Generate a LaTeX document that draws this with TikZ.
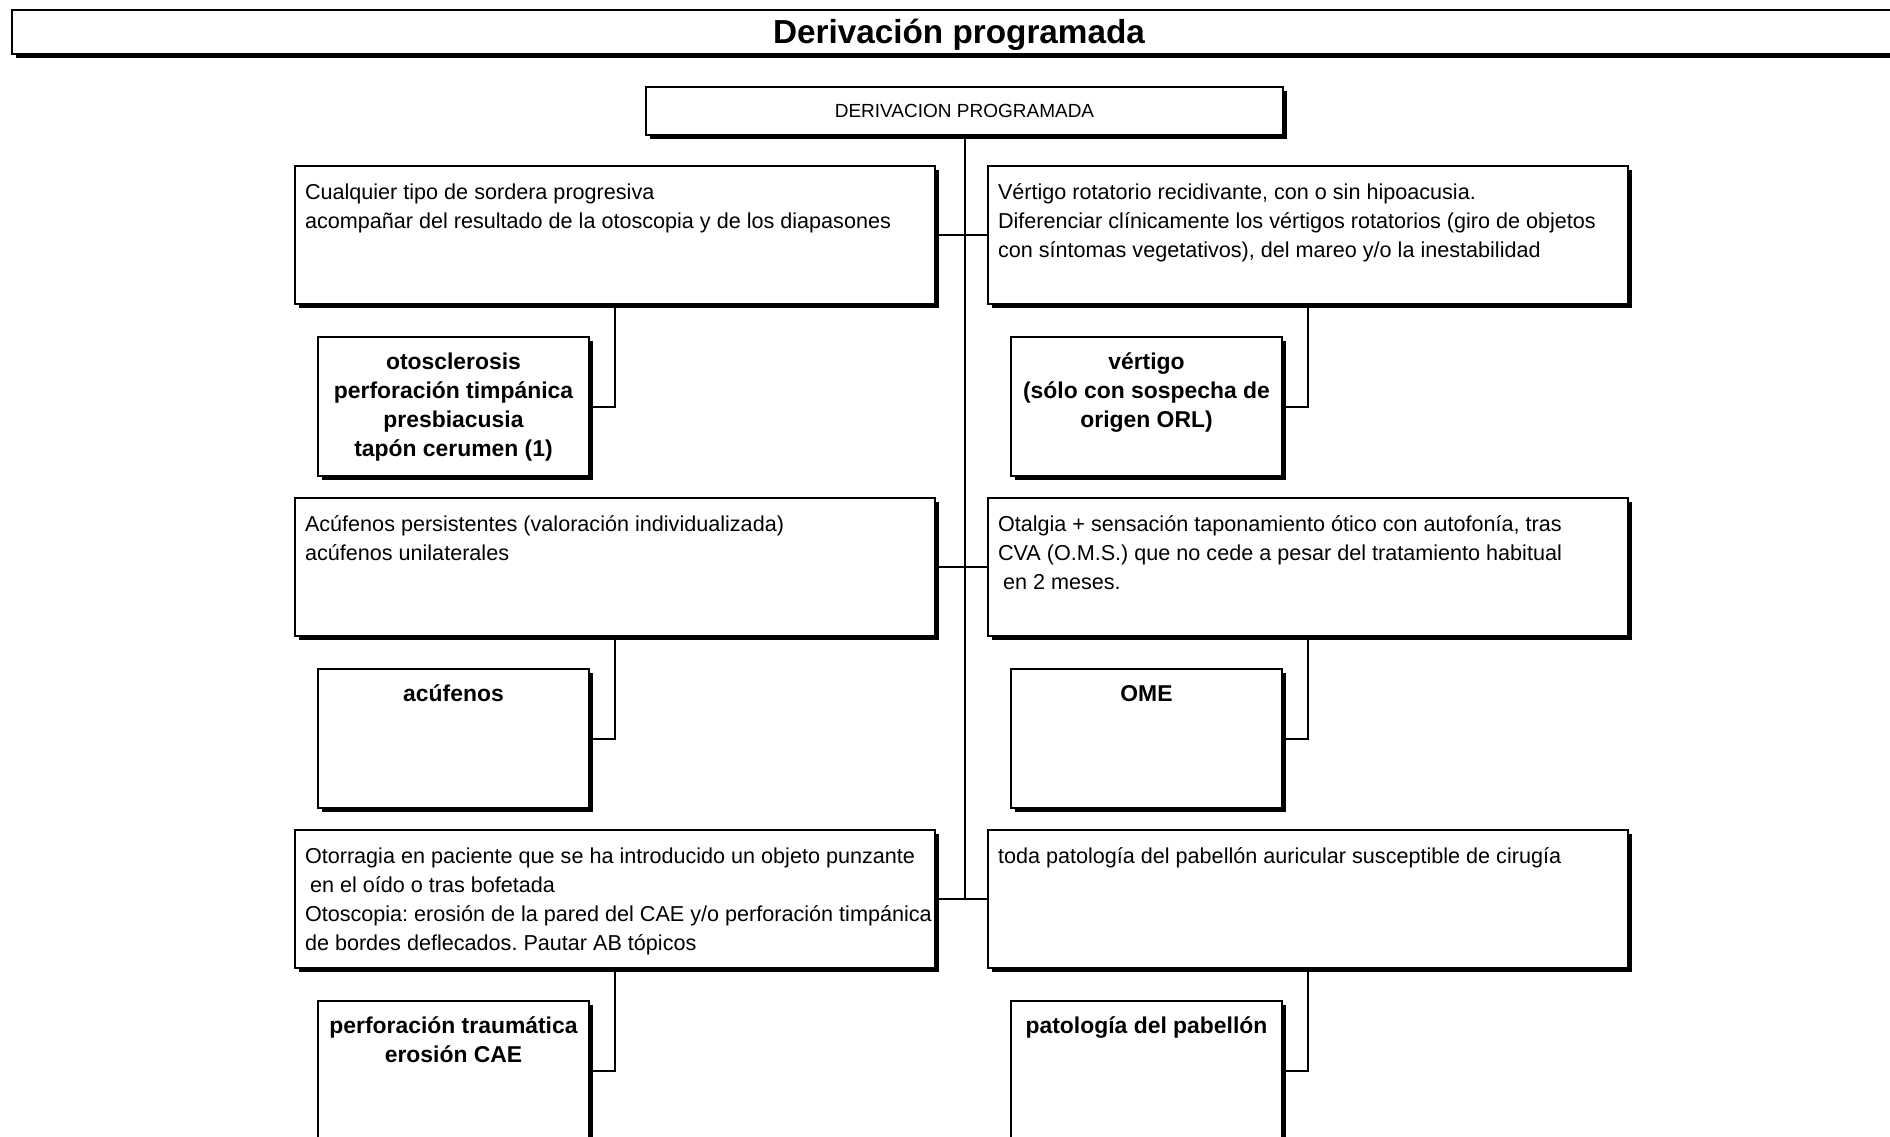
\documentclass[tikz,border=0pt]{standalone}
\usepackage{fontspec}
\setmainfont{Liberation Sans}
\usepackage{tikz}
\usetikzlibrary{shadows}
\tikzset{font={\fontsize{21.6pt}{29.3pt}\selectfont}}
\tikzset{
box/.style={draw,line width=2pt,fill=white,rectangle,anchor=north west,inner xsep=10pt,inner ysep=0pt,
  drop shadow={shadow xshift=4pt,shadow yshift=-4pt,fill=black,opacity=1}},
crit/.style={box,inner xsep=0pt},
diag/.style={box,inner xsep=6pt,font={\bfseries\fontsize{22.9pt}{29.3pt}\selectfont}},
link/.style={line width=2pt}
}
\newcommand{\crittext}[1]{\parbox[t][138pt][t]{640pt}{\raggedright\leftskip=10pt\frenchspacing\vspace*{12.5pt}\strut#1}}
\newcommand{\leaftext}[1]{\parbox[t][139pt][t]{259pt}{\centering\vspace*{11.5pt}\strut#1}}

\begin{document}
\begin{tikzpicture}[x=1pt,y=-1pt]
\useasboundingbox (0,0) rectangle (1890,1137);
\clip (0,0) rectangle (1890,1137);

\node[box,minimum width=1894pt,minimum height=44pt,inner sep=0pt,text height=24pt,text depth=0pt,
  font={\bfseries\fontsize{33.3pt}{40pt}\selectfont}] (title) at (11,9) {Derivación programada};
\node[box,minimum width=637pt,minimum height=48pt,inner sep=0pt,text height=13.6pt,text depth=0pt,
  font={\fontsize{19pt}{24pt}\selectfont}] (root) at (645,86) {DERIVACION PROGRAMADA};

\node[crit] (crit-l1) at (294,165) {\crittext{Cualquier tipo de sordera progresiva\\acompañar del resultado de la otoscopia y de los diapasones}};
\node[crit] (crit-r1) at (987,165) {\crittext{Vértigo rotatorio recidivante, con o sin hipoacusia.\\Diferenciar clínicamente los vértigos rotatorios (giro de objetos\\con síntomas vegetativos), del mareo y/o la inestabilidad}};
\node[diag] (diag-l1) at (317,336) {\leaftext{otosclerosis\\perforación timpánica\\presbiacusia\\tapón cerumen (1)}};
\node[diag] (diag-r1) at (1010,336) {\leaftext{vértigo\\(sólo con sospecha de\\origen ORL)}};

\node[crit] (crit-l2) at (294,497) {\crittext{Acúfenos persistentes (valoración individualizada)\\acúfenos unilaterales}};
\node[crit] (crit-r2) at (987,497) {\crittext{Otalgia + sensación taponamiento ótico con autofonía, tras\\CVA (O.M.S.) que no cede a pesar del tratamiento habitual\\\hspace*{5pt}en 2 meses.}};
\node[diag] (diag-l2) at (317,668) {\leaftext{acúfenos}};
\node[diag] (diag-r2) at (1010,668) {\leaftext{OME}};

\node[crit] (crit-l3) at (294,829) {\crittext{Otorragia en paciente que se ha introducido un objeto punzante\\\hspace*{5pt}en el oído o tras bofetada\\Otoscopia: erosión de la pared del CAE y/o perforación timpánica\\de bordes deflecados. Pautar AB tópicos}};
\node[crit] (crit-r3) at (987,829) {\crittext{toda patología del pabellón auricular susceptible de cirugía}};
\node[diag] (diag-l3) at (317,1000) {\leaftext{perforación traumática\\erosión CAE}};
\node[diag] (diag-r3) at (1010,1000) {\leaftext{patología del pabellón}};

\draw[link] (root.south) -- (root.south |- crit-l3.east);
\foreach \r in {1,2,3} \draw[link] (crit-l\r.east) -- (crit-r\r.west);
\foreach \s in {l1,r1,l2,r2,l3,r3} \draw[link] (crit-\s.south) |- (diag-\s.east);

\end{tikzpicture}
\end{document}
